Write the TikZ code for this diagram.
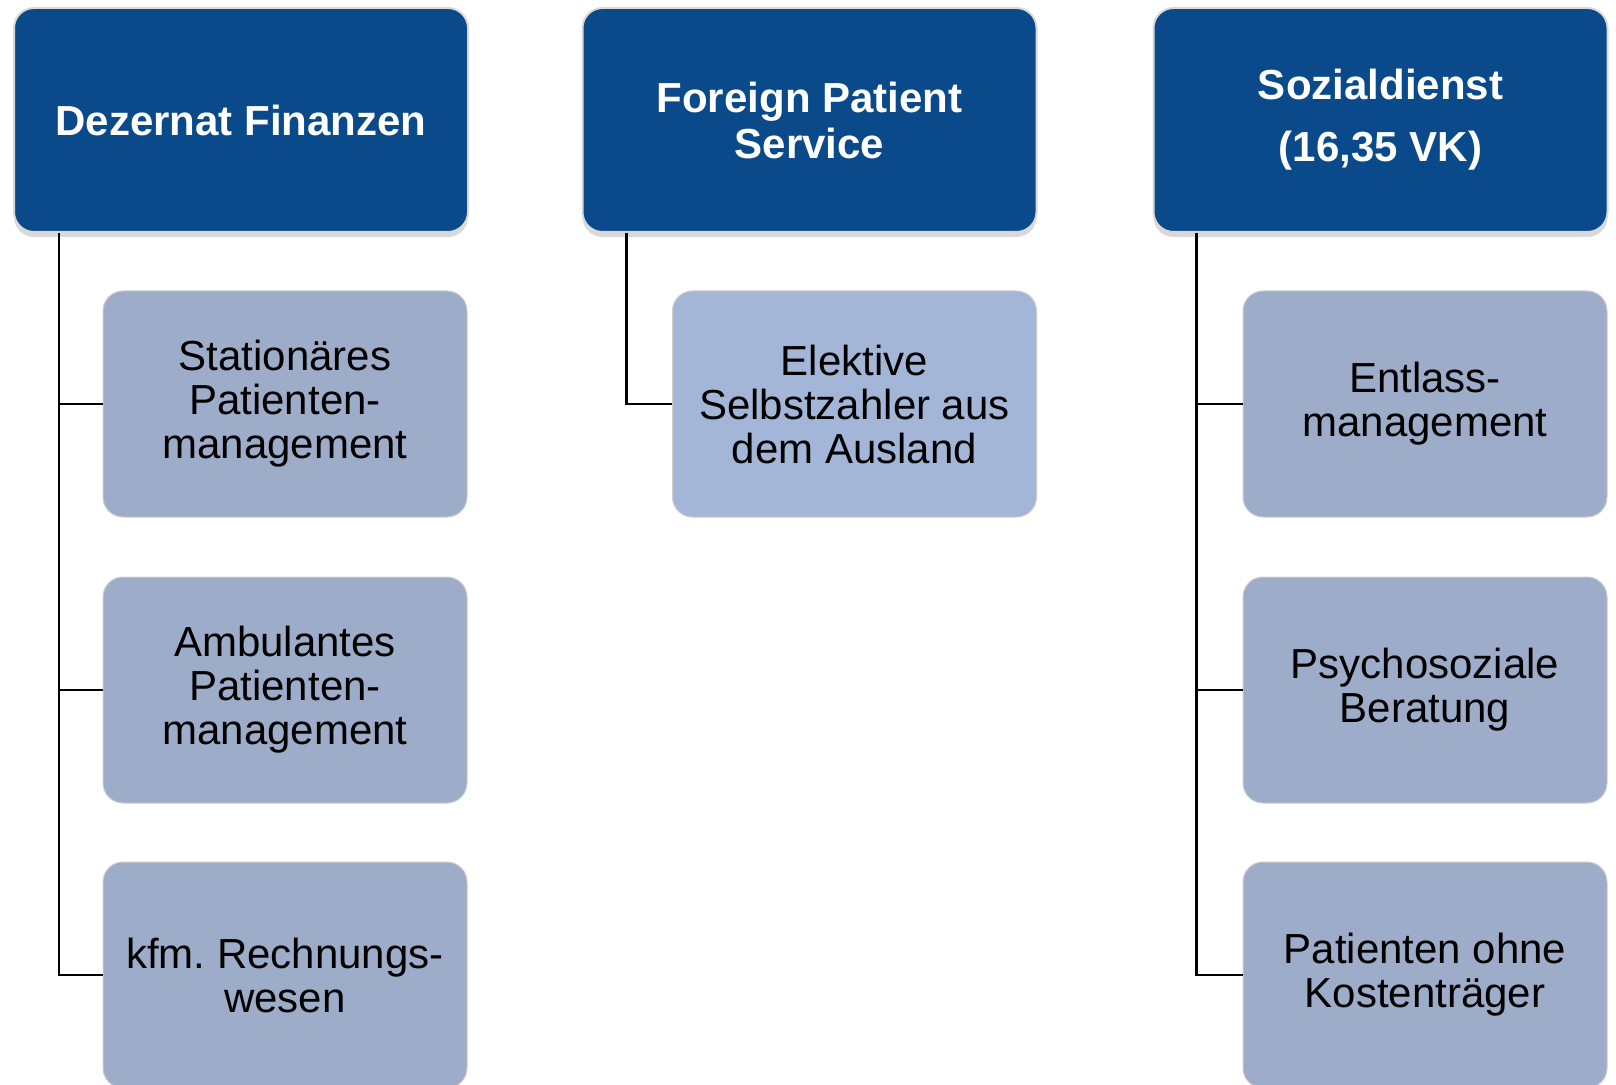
\documentclass[tikz,border=0pt]{standalone}
\usepackage{fontspec}
\setmainfont{Liberation Sans}
\usetikzlibrary{shadows}
\definecolor{headblue}{HTML}{0B4A8A}
\definecolor{unitgray}{HTML}{9DACC8}
\definecolor{unitblue}{HTML}{A3B6D8}
\frenchspacing
\begin{document}
\begin{tikzpicture}
    [x=0.5pt, y=-0.5pt,
    head/.style={draw=black!15, line width=1pt, fill=headblue, rounded corners=10pt,
      text=white, font=\fontsize{21}{23}\selectfont\bfseries, align=center,
      minimum width=227pt, minimum height=112pt, inner sep=0pt,
      drop shadow={shadow xshift=0pt, shadow yshift=-2.5pt, opacity=0.3}},
    unit/.style={draw=black!20, line width=0.5pt, fill=unitgray, rounded corners=10pt,
      font=\fontsize{21}{22}\selectfont, align=center,
      minimum width=182pt, minimum height=113pt, inner sep=0pt},
    link/.style={draw, line width=1.4pt}]
    \clip (0,0) rectangle (1616,1085);
    \node[head] (F) at (241,120) {Dezernat Finanzen};
    \node[head] (P) at (809.5,120) {Foreign Patient\\Service};
    \node[head, font=\fontsize{21}{31}\selectfont\bfseries] (S) at (1380.5,120) {Sozialdienst\\(16,35 VK)};
    \node[unit] (F1) at (285,404) {Stationäres\\Patienten-\\management};
    \node[unit] (F2) at (285,690) {Ambulantes\\Patienten-\\management};
    \node[unit] (F3) at (285,975) {kfm. Rechnungs-\\wesen};
    \node[unit, fill=unitblue] (P1) at (854.5,404) {Elektive\\Selbstzahler aus\\dem Ausland};
    \node[unit] (S1) at (1425,404) {Entlass-\\management};
    \node[unit] (S2) at (1425,690) {Psychosoziale\\Beratung};
    \node[unit] (S3) at (1425,975) {Patienten ohne\\Kostenträger};
    \coordinate (f) at ([xshift=23pt]F.south west);
    \coordinate (p) at ([xshift=22.5pt]P.south west);
    \coordinate (s) at ([xshift=22pt]S.south west);
    \draw[link] (f) |- (F1.west) (f) |- (F2.west) (f) |- (F3.west);
    \draw[link] (p) |- (P1.west);
    \draw[link] (s) |- (S1.west) (s) |- (S2.west) (s) |- (S3.west);
\end{tikzpicture}
\end{document}
